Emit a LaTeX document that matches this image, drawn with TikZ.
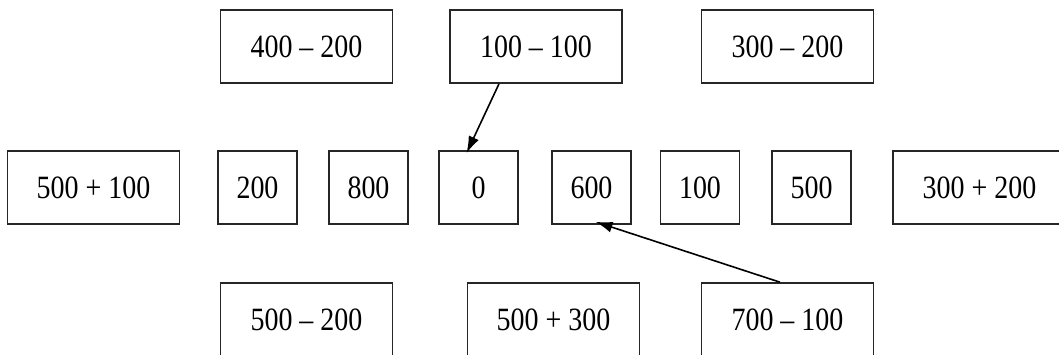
\documentclass[tikz,border=0pt]{standalone}
\usepackage{fontspec}
\setmainfont[FakeStretch=0.86]{Liberation Serif}
\usetikzlibrary{arrows.meta}
\begin{document}
\begin{tikzpicture}[x=1pt,y=-1pt,
  box/.style={draw=black!85,line width=1.6pt,rectangle,inner sep=0pt,
    minimum height=73pt,font=\fontsize{32.5}{36}\selectfont},
  wide/.style={box,minimum width=172pt},
  narrow/.style={box,minimum width=79pt},
  link/.style={line width=1.6pt,-{Latex[length=17pt,width=11pt]}}]
\useasboundingbox (0,0) rectangle (1059,354);
% top row
\node[wide] (t1) at (306.5,46.5) {400 – 200};
\node[wide] (t2) at (536,46.5) {100 – 100};
\node[wide] (t3) at (787.5,46.5) {300 – 200};
% middle row
\node[wide] (m1) at (93.5,187.5) {500 + 100};
\node[narrow] (m2) at (257.5,187.5) {200};
\node[narrow] (m3) at (368.5,187.5) {800};
\node[narrow] (m4) at (478.5,187.5) {0};
\node[narrow] (m5) at (591.5,187.5) {600};
\node[narrow] (m6) at (700,187.5) {100};
\node[narrow] (m7) at (811.5,187.5) {500};
\node[wide,minimum width=173pt] (m8) at (979.5,187.5) {300 + 200};
% bottom row
\node[wide] (b1) at (306.5,319.5) {500 – 200};
\node[wide] (b2) at (553.5,319.5) {500 + 300};
\node[wide] (b3) at (787.5,319.5) {700 – 100};
% arrows
\draw[link] ([xshift=-37pt]t2.south) -- ([xshift=-12pt,yshift=-3pt]m4.north);
\draw[link] ([xshift=-7.5pt]b3.north) -- ([xshift=4pt,yshift=3pt]m5.south);
\end{tikzpicture}
\end{document}
